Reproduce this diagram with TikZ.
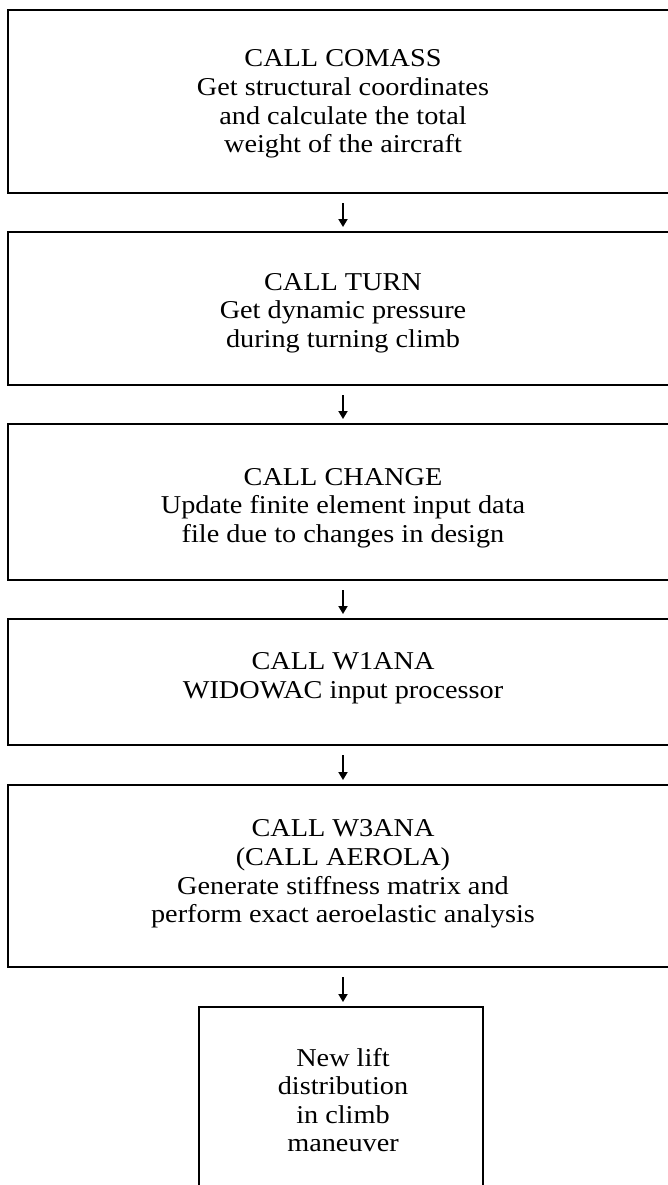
\documentclass[tikz,border=0pt]{standalone}
\usepackage{fontspec}
\setmainfont{Liberation Serif}[FakeStretch=1.1]
\usetikzlibrary{arrows.meta}
\tikzset{
  stagebox/.style={draw, line width=1.4pt, inner sep=0pt, outer sep=0pt},
  stagetext/.style={align=center, inner sep=0pt, font=\fontsize{12.85pt}{14.3pt}\selectfont},
  flow/.style={line width=0.9pt, -{Triangle[width=4.5pt,length=4pt]}, shorten <=5pt, shorten >=2.5pt}
}
\begin{document}
\begin{tikzpicture}[x=0.5pt, y=-0.5pt]
\useasboundingbox (0,0) rectangle (668,1185);
\clip (0,0) rectangle (668,1185);
% stage frames (open to the right)
\node[stagebox, minimum width=346pt, minimum height=91.5pt] (b1) at (354,101.5) {};
\node[stagebox, minimum width=346pt, minimum height=76.5pt] (b2) at (354,308.5) {};
\node[stagebox, minimum width=346pt, minimum height=78pt]   (b3) at (354,502) {};
\node[stagebox, minimum width=346pt, minimum height=63pt]   (b4) at (354,682) {};
\node[stagebox, minimum width=346pt, minimum height=91pt]   (b5) at (354,876) {};
\node[stagebox, line width=1.3pt, minimum width=142pt, minimum height=106.5pt] (b6) at (341,1113.5) {};
% stage texts
\node[stagetext] (t1) at (343,104) {CALL COMASS\\Get structural coordinates\\and calculate the total\\weight of the aircraft};
\node[stagetext] (t2) at (343,313) {CALL TURN\\Get dynamic pressure\\during turning climb};
\node[stagetext] (t3) at (343,508) {CALL CHANGE\\Update finite element input data\\file due to changes in design};
\node[stagetext] (t4) at (343,678) {CALL W1ANA\\WIDOWAC input processor};
\node[stagetext] (t5) at (343,874) {CALL W3ANA\\(CALL AEROLA)\\Generate stiffness matrix and\\perform exact aeroelastic analysis};
\node[stagetext] (t6) at (343,1100) {New lift\\distribution\\in climb\\maneuver};
% flow arrows
\draw[flow] (b1.south -| t1.center) -- (b2.north -| t1.center);
\draw[flow] (b2.south -| t1.center) -- (b3.north -| t1.center);
\draw[flow] (b3.south -| t1.center) -- (b4.north -| t1.center);
\draw[flow] (b4.south -| t1.center) -- (b5.north -| t1.center);
\draw[flow] (b5.south -| t1.center) -- (b6.north -| t1.center);
\end{tikzpicture}
\end{document}
